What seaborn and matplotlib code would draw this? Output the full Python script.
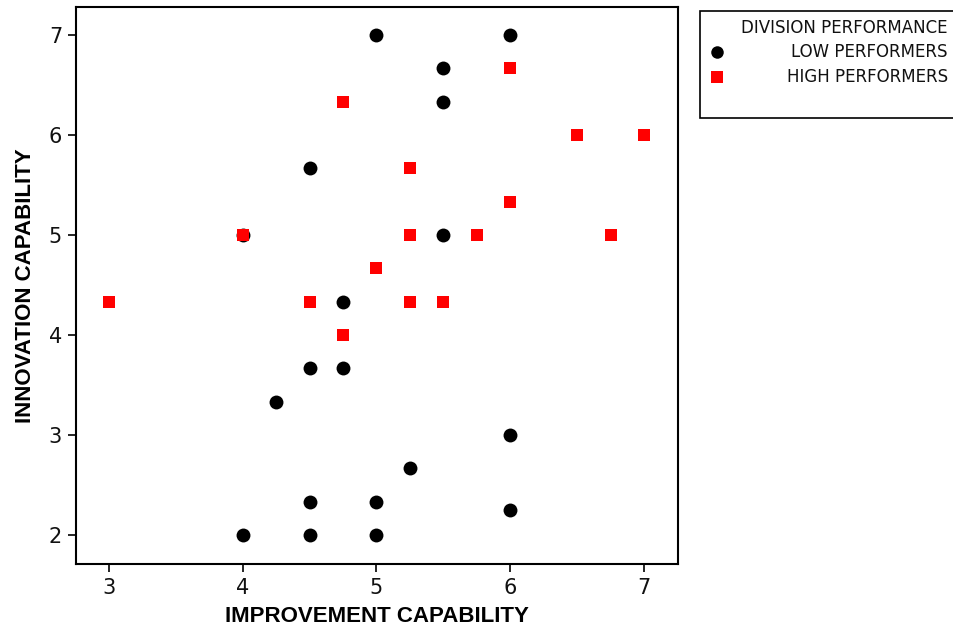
import matplotlib
matplotlib.use("Agg")
import matplotlib.pyplot as plt
from matplotlib.patches import Rectangle
from matplotlib.lines import Line2D
import seaborn as sns
import pandas as pd

# Division-level capability scores
low_improvement = [5, 6, 5.5, 5.5, 4.5, 4, 5.5, 4.75, 4.5, 4.75, 4.25, 6, 5.25, 4.5, 5, 6, 4, 4.5, 5]
low_innovation = [7, 7, 6.67, 6.33, 5.67, 5, 5, 4.33, 3.67, 3.67, 3.33, 3, 2.67, 2.33, 2.33, 2.25, 2, 2, 2]

high_improvement = [6, 4.75, 6.5, 7, 5.25, 6, 4, 5.25, 5.75, 6.75, 5, 3, 4.5, 5.25, 5.5, 4.75]
high_innovation = [6.67, 6.33, 6, 6, 5.67, 5.33, 5, 5, 5, 5, 4.67, 4.33, 4.33, 4.33, 4.33, 4]

x_ticks = [3, 4, 5, 6, 7]
y_ticks = [2, 3, 4, 5, 6, 7]

legend_title = "DIVISION PERFORMANCE"
group_labels = ["LOW PERFORMERS", "HIGH PERFORMERS"]
group_colors = ["#000000", "#ff0000"]
group_markers = ["o", "s"]

low = pd.DataFrame({"improvement": low_improvement, "innovation": low_innovation})
high = pd.DataFrame({"improvement": high_improvement, "innovation": high_innovation})

sns.set_theme(style="white")
plt.rcParams["font.family"] = ["DejaVu Sans"]

fig = plt.figure(figsize=(9.54, 6.35), dpi=100)
ax = fig.add_axes([76 / 954, 71 / 635, 602 / 954, 557 / 635])

sns.scatterplot(data=low, x="improvement", y="innovation", ax=ax,
                color=group_colors[0], marker=group_markers[0], s=100,
                linewidth=0, zorder=3)
sns.scatterplot(data=high, x="improvement", y="innovation", ax=ax,
                color=group_colors[1], marker=group_markers[1], s=72,
                linewidth=0, zorder=4)

ax.set_xlim(2.754, 7.254)
ax.set_ylim(1.71, 7.28)
ax.set_xticks(x_ticks)
ax.set_yticks(y_ticks)
ax.tick_params(axis="both", which="both", direction="out", length=6, width=1.2,
               color="black", labelsize=15, labelcolor="#111111",
               bottom=True, left=True, top=False, right=False, pad=4)
for spine in ax.spines.values():
    spine.set_visible(True)
    spine.set_color("black")
    spine.set_linewidth(1.5)

label_font = dict(family=["Liberation Sans", "DejaVu Sans"],
                  fontweight="bold", fontsize=16, color="black")
ax.set_xlabel("IMPROVEMENT CAPABILITY", labelpad=6, **label_font)
ax.set_ylabel("INNOVATION CAPABILITY", labelpad=9, **label_font)

# Legend panel to the right of the plot
fig.patches.append(Rectangle((700 / 954, 1 - 118 / 635), 260 / 954, 107 / 635,
                             transform=fig.transFigure, facecolor="white",
                             edgecolor="black", linewidth=1.2, clip_on=False))
text_right = 948 / 954
fig.text(text_right, 1 - 28 / 635, legend_title, ha="right", va="center",
         fontsize=12, color="#111111")
for i, (lab, col, mk) in enumerate(zip(group_labels, group_colors, group_markers)):
    yy = 1 - (52 + 25 * i) / 635
    fig.text(text_right, yy, lab, ha="right", va="center", fontsize=12, color="#111111")
    fig.lines.append(Line2D([717 / 954], [yy], transform=fig.transFigure,
                            marker=mk, color=col, markersize=9 if mk == "o" else 8.5,
                            linestyle="none", markeredgewidth=0))

fig.savefig("out.png", dpi=100)
